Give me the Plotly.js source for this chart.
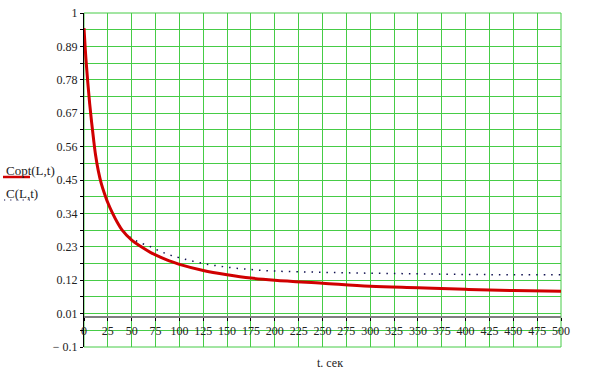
<!DOCTYPE html>
<html>
<head>
<meta charset="utf-8">
<script src="https://cdn.plot.ly/plotly-3.0.1.min.js"></script>
<style>html,body{margin:0;padding:0;background:#fff;}#chart{width:602px;height:385px;}</style>
</head>
<body>
<div id="chart"></div>
<script>
// time, seconds
var tValues = [0, 2, 4, 6, 8, 10, 12, 15, 18, 21, 25, 30, 35, 40, 50, 60, 70, 80, 90, 100, 125, 150, 175, 200, 250, 300, 350, 400, 450, 500];
// Copt(L,t)
var coptValues = [0.95, 0.85, 0.77, 0.70, 0.64, 0.585, 0.535, 0.48, 0.44, 0.41, 0.375, 0.34, 0.31, 0.285, 0.252, 0.23, 0.211, 0.196, 0.183, 0.172, 0.152, 0.138, 0.127, 0.12, 0.11, 0.10, 0.095, 0.09, 0.086, 0.084];
// C(L,t)
var cValues = [0.95, 0.85, 0.77, 0.70, 0.64, 0.585, 0.535, 0.48, 0.44, 0.41, 0.375, 0.34, 0.31, 0.287, 0.258, 0.242, 0.23, 0.215, 0.203, 0.194, 0.175, 0.163, 0.155, 0.15, 0.146, 0.143, 0.141, 0.139, 0.138, 0.138];
var yTickVals = [-0.1, 0.01, 0.12, 0.23, 0.34, 0.45, 0.56, 0.67, 0.78, 0.89, 1];
var yTickText = ["\u2212 0.1", "0.01", "0.12", "0.23", "0.34", "0.45", "0.56", "0.67", "0.78", "0.89", "1"];
var seriesNames = ["Copt(L,t)", "C(L,t)"];
var xTitle = "t. сек";

var green = "#46cc46";
var font = {family: "Liberation Serif, Times New Roman, serif", size: 12, color: "#222"};

var traces = [
  {x: tValues, y: cValues, mode: "lines", name: seriesNames[1],
   line: {color: "#101050", width: 1.5, dash: "1.5px,6px", shape: "spline"}, hoverinfo: "skip"},
  {x: tValues, y: coptValues, mode: "lines", name: seriesNames[0],
   line: {color: "#d00000", width: 3, shape: "spline"}, hoverinfo: "skip"}
];

function px2paperX(px) { return (px - 84) / 477; }
function px2paperY(py) { return (347 - py) / 334; }

var layout = {
  width: 602, height: 385,
  margin: {l: 84, r: 41, t: 13, b: 38},
  paper_bgcolor: "#fff", plot_bgcolor: "#fff",
  showlegend: false,
  font: font,
  xaxis: {
    range: [0, 500], tickmode: "linear", tick0: 0, dtick: 25,
    showgrid: true, gridcolor: green, gridwidth: 1,
    zeroline: false,
    showline: true, linecolor: "#808080", linewidth: 2,
    ticks: "outside", ticklen: 3, tickcolor: "#000",
    anchor: "free", position: 0.1 / 1.1,
    tickfont: font
  },
  yaxis: {
    range: [-0.1, 1], tickmode: "array", tickvals: yTickVals, ticktext: yTickText,
    showgrid: true, gridcolor: green, gridwidth: 1,
    zeroline: false,
    showline: true, linecolor: "#000", linewidth: 1,
    ticks: "outside", ticklen: 3, tickcolor: "#000",
    minor: {tickmode: "linear", tick0: -0.1, dtick: 0.055, showgrid: true, gridcolor: green, gridwidth: 1,
            ticks: "outside", ticklen: 3, tickcolor: "#000"},
    tickfont: font
  },
  shapes: [
    {type: "rect", xref: "paper", yref: "paper", x0: 0, x1: 1, y0: 0, y1: 1,
     line: {color: green, width: 1}, layer: "below"},
    {type: "line", xref: "paper", yref: "paper", x0: px2paperX(3), x1: px2paperX(30),
     y0: px2paperY(177), y1: px2paperY(177), line: {color: "#d00000", width: 2.5}},
    {type: "line", xref: "paper", yref: "paper", x0: px2paperX(4), x1: px2paperX(30),
     y0: px2paperY(200), y1: px2paperY(200), line: {color: "#101050", width: 1.2, dash: "1.2px,5px"}}
  ],
  annotations: [
    {xref: "paper", yref: "paper", x: px2paperX(4), y: px2paperY(170), xanchor: "left", yanchor: "middle",
     text: seriesNames[0], showarrow: false, font: {family: font.family, size: 13, color: "#222"}},
    {xref: "paper", yref: "paper", x: px2paperX(4), y: px2paperY(193), xanchor: "left", yanchor: "middle",
     text: seriesNames[1], showarrow: false, font: {family: font.family, size: 13, color: "#222"}},
    {xref: "paper", yref: "paper", x: px2paperX(330), y: px2paperY(363), xanchor: "center", yanchor: "middle",
     text: xTitle, showarrow: false, font: {family: font.family, size: 12, color: "#222"}}
  ]
};

Plotly.newPlot("chart", traces, layout, {staticPlot: true, displayModeBar: false});
</script>
</body>
</html>
